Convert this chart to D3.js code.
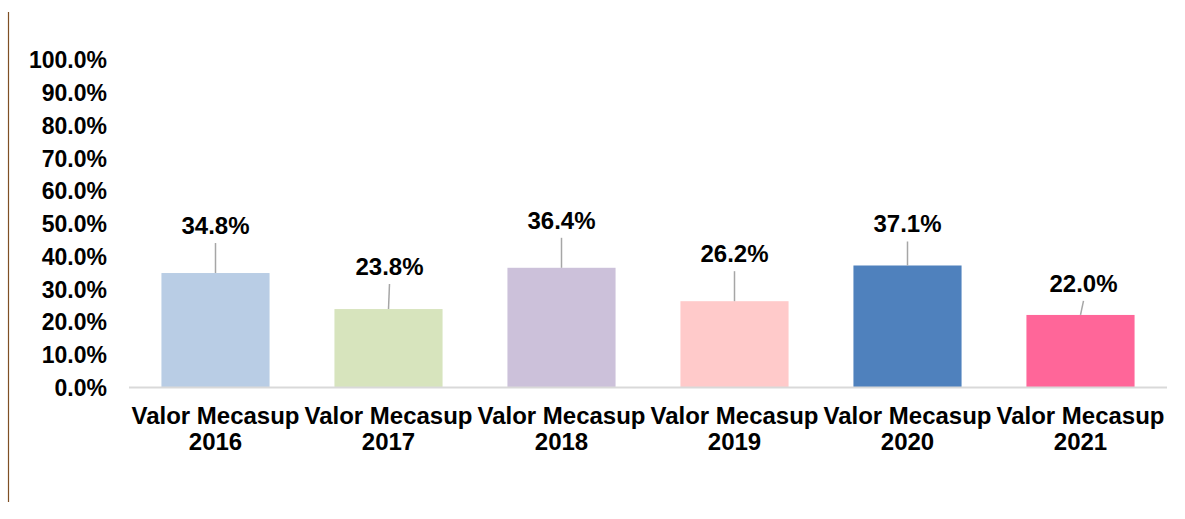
<!DOCTYPE html>
<html>
<head>
<meta charset="utf-8">
<script src="https://cdn.jsdelivr.net/npm/d3@7"></script>
<style>
  html, body { margin: 0; padding: 0; background: #fff; }
  svg { display: block; font-family: "Liberation Sans", Arial, sans-serif; }
</style>
</head>
<body>
<svg id="chart" width="1185" height="519"></svg>
<script>
// Data
const categories = ["Valor Mecasup 2016", "Valor Mecasup 2017", "Valor Mecasup 2018",
  "Valor Mecasup 2019", "Valor Mecasup 2020", "Valor Mecasup 2021"];
const values = [0.348, 0.238, 0.364, 0.262, 0.371, 0.22];
const barColors = ["#B9CDE5", "#D7E4BD", "#CCC1DA", "#FFCACA", "#4F81BD", "#FF6699"];
const yTicks = [0, 0.1, 0.2, 0.3, 0.4, 0.5, 0.6, 0.7, 0.8, 0.9, 1.0];

// Layout: how far each data label sits above its bar (px), and leader tilt
const labelLift = [39, 34, 39, 39, 33, 23];
const leaderTilt = [0, 1, 0, 0, 0, 3];

const svg = d3.select("#chart");
const plotLeft = 129, plotRight = 1167, plotTop = 59.5, plotBottom = 387;

// Frame line at left edge
svg.append("line")
  .attr("x1", 8.5).attr("x2", 8.5).attr("y1", 12).attr("y2", 502)
  .attr("stroke", "#7F4F24").attr("stroke-width", 1.2);

const x = d3.scaleBand().domain(categories).range([plotLeft, plotRight]).paddingInner(0.375).paddingOuter(0.1875);
const y = d3.scaleLinear().domain([0, 1]).range([plotBottom, plotTop]);

// Y axis labels
svg.append("g")
  .attr("transform", "translate(107,0)")
  .call(d3.axisLeft(y).tickValues(yTicks).tickFormat(d3.format(".1%")).tickSize(0).tickPadding(0))
  .call(g => g.select(".domain").remove())
  .selectAll("text")
  .attr("font-family", "'Liberation Sans', Arial, sans-serif")
  .attr("font-size", 23)
  .attr("font-weight", "bold")
  .attr("fill", "#000")
  .attr("dy", "0.36em");

// Bars
svg.selectAll("rect.bar")
  .data(values)
  .join("rect")
  .attr("class", "bar")
  .attr("x", (d, i) => x(categories[i]))
  .attr("width", x.bandwidth())
  .attr("y", d => y(d))
  .attr("height", d => y(0) - y(d))
  .attr("fill", (d, i) => barColors[i]);

// Baseline
svg.append("line")
  .attr("x1", plotLeft).attr("x2", plotRight).attr("y1", plotBottom + 0.5).attr("y2", plotBottom + 0.5)
  .attr("stroke", "#D9D9D9").attr("stroke-width", 2);

// Leader lines
svg.selectAll("line.leader")
  .data(values)
  .join("line")
  .attr("class", "leader")
  .attr("x1", (d, i) => x(categories[i]) + x.bandwidth() / 2 + leaderTilt[i])
  .attr("x2", (d, i) => x(categories[i]) + x.bandwidth() / 2)
  .attr("y1", (d, i) => y(d) - labelLift[i] + 9)
  .attr("y2", d => y(d))
  .attr("stroke", "#A6A6A6").attr("stroke-width", 1.5);

// Value labels
svg.selectAll("text.value")
  .data(values)
  .join("text")
  .attr("class", "value")
  .attr("x", (d, i) => x(categories[i]) + x.bandwidth() / 2 + leaderTilt[i])
  .attr("y", (d, i) => y(d) - labelLift[i])
  .attr("text-anchor", "middle")
  .attr("font-size", 24)
  .attr("font-weight", "bold")
  .attr("fill", "#000")
  .text(d => d3.format(".1%")(d));

// Category labels (two lines)
const catLabels = svg.selectAll("text.cat")
  .data(categories)
  .join("text")
  .attr("class", "cat")
  .attr("text-anchor", "middle")
  .attr("font-size", 24)
  .attr("font-weight", "bold")
  .attr("fill", "#000");

catLabels.each(function (d) {
  const parts = d.split(" ");
  const cx = x(d) + x.bandwidth() / 2;
  const t = d3.select(this);
  t.append("tspan").attr("x", cx).attr("y", 424).text(parts.slice(0, 2).join(" "));
  t.append("tspan").attr("x", cx).attr("y", 450).text(parts[2]);
});
</script>
</body>
</html>
